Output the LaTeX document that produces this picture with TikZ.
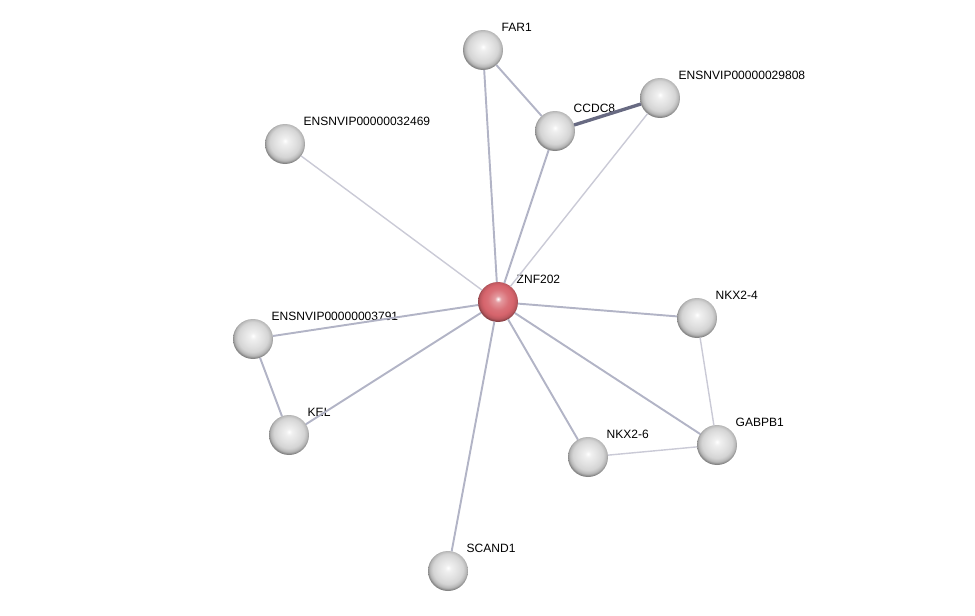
\documentclass[tikz,border=0pt]{standalone}
\usepackage{fontspec}
\setmainfont{Liberation Sans}
\usepackage{xcolor}
\usepackage{tikz}
\usetikzlibrary{shadings}

\definecolor{edgelight}{RGB}{202,202,214}
\definecolor{edgemid}{RGB}{178,180,198}
\definecolor{edgedark}{RGB}{104,106,130}
\definecolor{hubred}{RGB}{214,100,108}

% glassy spheres
\pgfdeclareradialshading{greysphere}{\pgfpoint{0bp}{4bp}}{%
    color(0bp)=(white); color(4bp)=(black!6); color(13bp)=(black!12);
    color(19bp)=(black!17); color(23bp)=(black!28); color(26bp)=(black!50); color(50bp)=(black!55)}
\pgfdeclareradialshading{redsphere}{\pgfpoint{0bp}{4bp}}{%
    color(0bp)=(white); color(4bp)=(hubred!65!white); color(13bp)=(hubred!92!white);
    color(19bp)=(hubred); color(23bp)=(hubred!88!black); color(26bp)=(hubred!62!black); color(50bp)=(hubred!55!black)}

\begin{document}
\begin{tikzpicture}[
    x=0.02cm, y=-0.02cm,
    protein/.style={circle, shading=greysphere, minimum size=0.8cm, inner sep=0pt, outer sep=0pt},
    hub/.style={protein, shading=redsphere},
    lbl/.style={anchor=base west, inner sep=0pt, label distance=3.4pt, font=\fontsize{6.85}{8}\selectfont}
]
    \tikzset{
        weak/.style={draw=edgelight, line width=0.8pt},
        medium/.style={draw=edgemid, line width=1.1pt},
        strong/.style={draw=edgedark, line width=1.9pt}
    }
    \useasboundingbox (0,0) rectangle (975,616);

    % proteins
    \node[hub, label={[lbl]45:ZNF202}] (znf202) at (498,302) {};
    \node[protein, label={[lbl]45:FAR1}] (far1) at (483,50) {};
    \node[protein, label={[lbl]45:CCDC8}] (ccdc8) at (555,131) {};
    \node[protein, label={[lbl]45:ENSNVIP00000029808}] (ens29808) at (660,98) {};
    \node[protein, label={[lbl]45:ENSNVIP00000032469}] (ens32469) at (285,144) {};
    \node[protein, label={[lbl]45:NKX2-4}] (nkx24) at (697,318) {};
    \node[protein, label={[lbl]45:ENSNVIP00000003791}] (ens3791) at (253,339) {};
    \node[protein, label={[lbl]45:KEL}] (kel) at (289,435) {};
    \node[protein, label={[lbl]45:NKX2-6}] (nkx26) at (588,457) {};
    \node[protein, label={[lbl]45:GABPB1}] (gabpb1) at (717,445) {};
    \node[protein, label={[lbl]45:SCAND1}] (scand1) at (448,571) {};

    % interactions
    \draw[strong] (ccdc8) -- (ens29808);
    \draw[medium] (far1) -- (ccdc8);
    \draw[medium] (far1) -- (znf202);
    \draw[medium] (ccdc8) -- (znf202);
    \draw[weak] (ens29808) -- (znf202);
    \draw[weak] (ens32469) -- (znf202);
    \draw[medium] (ens3791) -- (znf202);
    \draw[medium] (ens3791) -- (kel);
    \draw[medium] (kel) -- (znf202);
    \draw[medium] (scand1) -- (znf202);
    \draw[medium] (nkx26) -- (znf202);
    \draw[medium] (gabpb1) -- (znf202);
    \draw[medium] (nkx24) -- (znf202);
    \draw[weak] (nkx24) -- (gabpb1);
    \draw[weak] (nkx26) -- (gabpb1);
\end{tikzpicture}
\end{document}
